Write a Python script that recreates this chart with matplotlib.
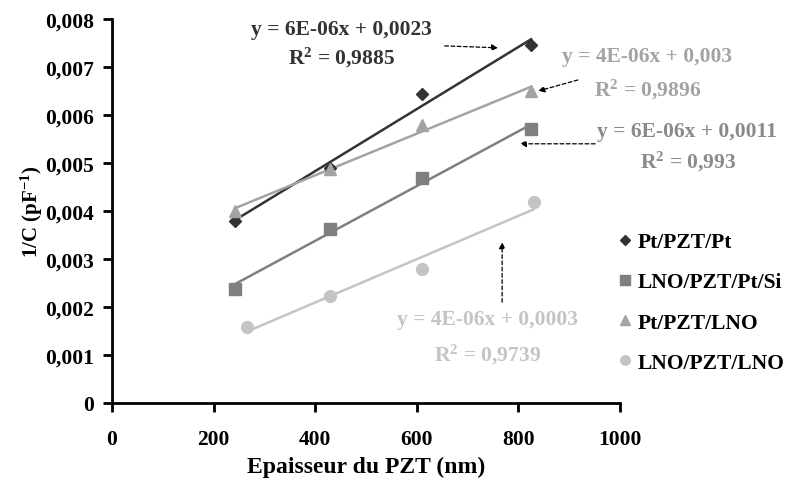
import numpy as np
import matplotlib
matplotlib.use("Agg")
import matplotlib.pyplot as plt
from matplotlib.ticker import FuncFormatter, MultipleLocator

# ---- data ----
x_pt_pt = [242, 430, 610, 825]
y_pt_pt = [0.0038, 0.0049, 0.00644, 0.00746]
x_lno_si = [242, 429, 610, 825]
y_lno_si = [0.00238, 0.00363, 0.00468, 0.00571]
x_pt_lno = [242, 429, 610, 825]
y_pt_lno = [0.0040, 0.00488, 0.00579, 0.0065]
x_lno_lno = [266, 429, 610, 830]
y_lno_lno = [0.00158, 0.00223, 0.00280, 0.00418]

labels = ["Pt/PZT/Pt", "LNO/PZT/Pt/Si", "Pt/PZT/LNO", "LNO/PZT/LNO"]
eqs = ["y = 6E-06x + 0,0023", "y = 6E-06x + 0,0011", "y = 4E-06x + 0,003", "y = 4E-06x + 0,0003"]
r2s = ["0,9885", "0,993", "0,9896", "0,9739"]

colors = ["#333333", "#7f7f7f", "#a3a3a3", "#c4c4c4"]
markers = ["D", "s", "^", "o"]
msizes = [6.5, 8.5, 9, 8.5]

plt.rcParams['font.family'] = ['Liberation Serif', 'DejaVu Serif']
plt.rcParams['font.weight'] = 'bold'
plt.rcParams['mathtext.fontset'] = 'custom'
plt.rcParams['mathtext.rm'] = 'Liberation Serif:bold'
plt.rcParams['mathtext.it'] = 'Liberation Serif:bold'
plt.rcParams['mathtext.bf'] = 'Liberation Serif:bold'

fig = plt.figure(figsize=(7.88, 4.81), dpi=100)
ax = fig.add_axes([0.1421, 0.1601, 0.6447, 0.7983])

series = [(x_pt_pt, y_pt_pt), (x_lno_si, y_lno_si), (x_pt_lno, y_pt_lno), (x_lno_lno, y_lno_lno)]
handles = []
for (xs, ys), c, m, ms, lab in zip(series, colors, markers, msizes, labels):
    xs = np.array(xs, float); ys = np.array(ys, float)
    p = np.polyfit(xs, ys, 1)
    xl = np.array([xs.min(), xs.max()])
    ax.plot(xl, np.polyval(p, xl), color=c, lw=1.8, zorder=2)
    h, = ax.plot(xs, ys, linestyle='none', marker=m, color=c, markersize=ms, label=lab, zorder=3)
    handles.append(h)

ax.set_xlim(0, 1000)
ax.set_ylim(0, 0.008)
ax.xaxis.set_major_locator(MultipleLocator(200))
ax.yaxis.set_major_locator(MultipleLocator(0.001))
ax.yaxis.set_major_formatter(FuncFormatter(lambda v, p: "0" if abs(v) < 1e-12 else f"{v:.3f}".replace('.', ',')))
ax.xaxis.set_major_formatter(FuncFormatter(lambda v, p: f"{v:.0f}"))
for s in ['top', 'right']:
    ax.spines[s].set_visible(False)
for s in ['left', 'bottom']:
    ax.spines[s].set_linewidth(2)
ax.tick_params(axis='both', direction='out', length=6.5, width=2, labelsize=15.5)
ax.tick_params(axis='x', pad=12)
ax.tick_params(axis='y', pad=6.5)
for lbl in ax.get_xticklabels() + ax.get_yticklabels():
    lbl.set_fontweight('bold')

ax.set_xlabel("Epaisseur du PZT (nm)", fontsize=17, fontweight='bold', labelpad=5)
ax.set_ylabel("1/C (pF$^{-1}$)", fontsize=15, fontweight='bold', labelpad=0)

fs = 15.5
txt_colors = ["#333333", "#8a8a8a", "#a3a3a3", "#c4c4c4"]
# Pt/PZT/Pt
ax.text(452, 0.00779, eqs[0], color=txt_colors[0], fontsize=fs, ha='center', va='center', fontweight='bold')
ax.text(452, 0.00721, "R$^2$ = " + r2s[0], color=txt_colors[0], fontsize=fs, ha='center', va='center', fontweight='bold')
# Pt/PZT/LNO
ax.text(1053, 0.00723, eqs[2], color=txt_colors[2], fontsize=fs, ha='center', va='center', fontweight='bold')
ax.text(1055, 0.00654, "R$^2$ = " + r2s[2], color=txt_colors[2], fontsize=fs, ha='center', va='center', fontweight='bold')
# LNO/PZT/Pt/Si
ax.text(1132, 0.00567, eqs[1], color=txt_colors[1], fontsize=fs, ha='center', va='center', fontweight='bold')
ax.text(1134, 0.00504, "R$^2$ = " + r2s[1], color=txt_colors[1], fontsize=fs, ha='center', va='center', fontweight='bold')
# LNO/PZT/LNO
ax.text(740, 0.00175, eqs[3], color=txt_colors[3], fontsize=fs, ha='center', va='center', fontweight='bold')
ax.text(740, 0.00102, "R$^2$ = " + r2s[3], color=txt_colors[3], fontsize=fs, ha='center', va='center', fontweight='bold')

arrow = dict(arrowstyle='-|>', linestyle=(0, (3, 2)), color='black', lw=0.9, mutation_scale=9, shrinkA=0, shrinkB=0)
ax.annotate("", xy=(760, 0.0074), xytext=(655, 0.00744), arrowprops=arrow, annotation_clip=False)
ax.annotate("", xy=(839, 0.0065), xytext=(917, 0.00673), arrowprops=arrow, annotation_clip=False)
ax.annotate("", xy=(803, 0.0054), xytext=(951, 0.0054), arrowprops=arrow, annotation_clip=False)
ax.annotate("", xy=(768, 0.00335), xytext=(768, 0.0021), arrowprops=arrow, annotation_clip=False)

leg = fig.legend(handles=handles, labels=labels, loc='upper left', bbox_to_anchor=(0.779, 0.515),
                 frameon=False, fontsize=15.5, handletextpad=0.1, handlelength=1.0,
                 labelspacing=0.93, markerscale=0.8, borderaxespad=0, borderpad=0)
for t in leg.get_texts():
    t.set_fontweight('bold')

fig.savefig("out.png", dpi=100)
